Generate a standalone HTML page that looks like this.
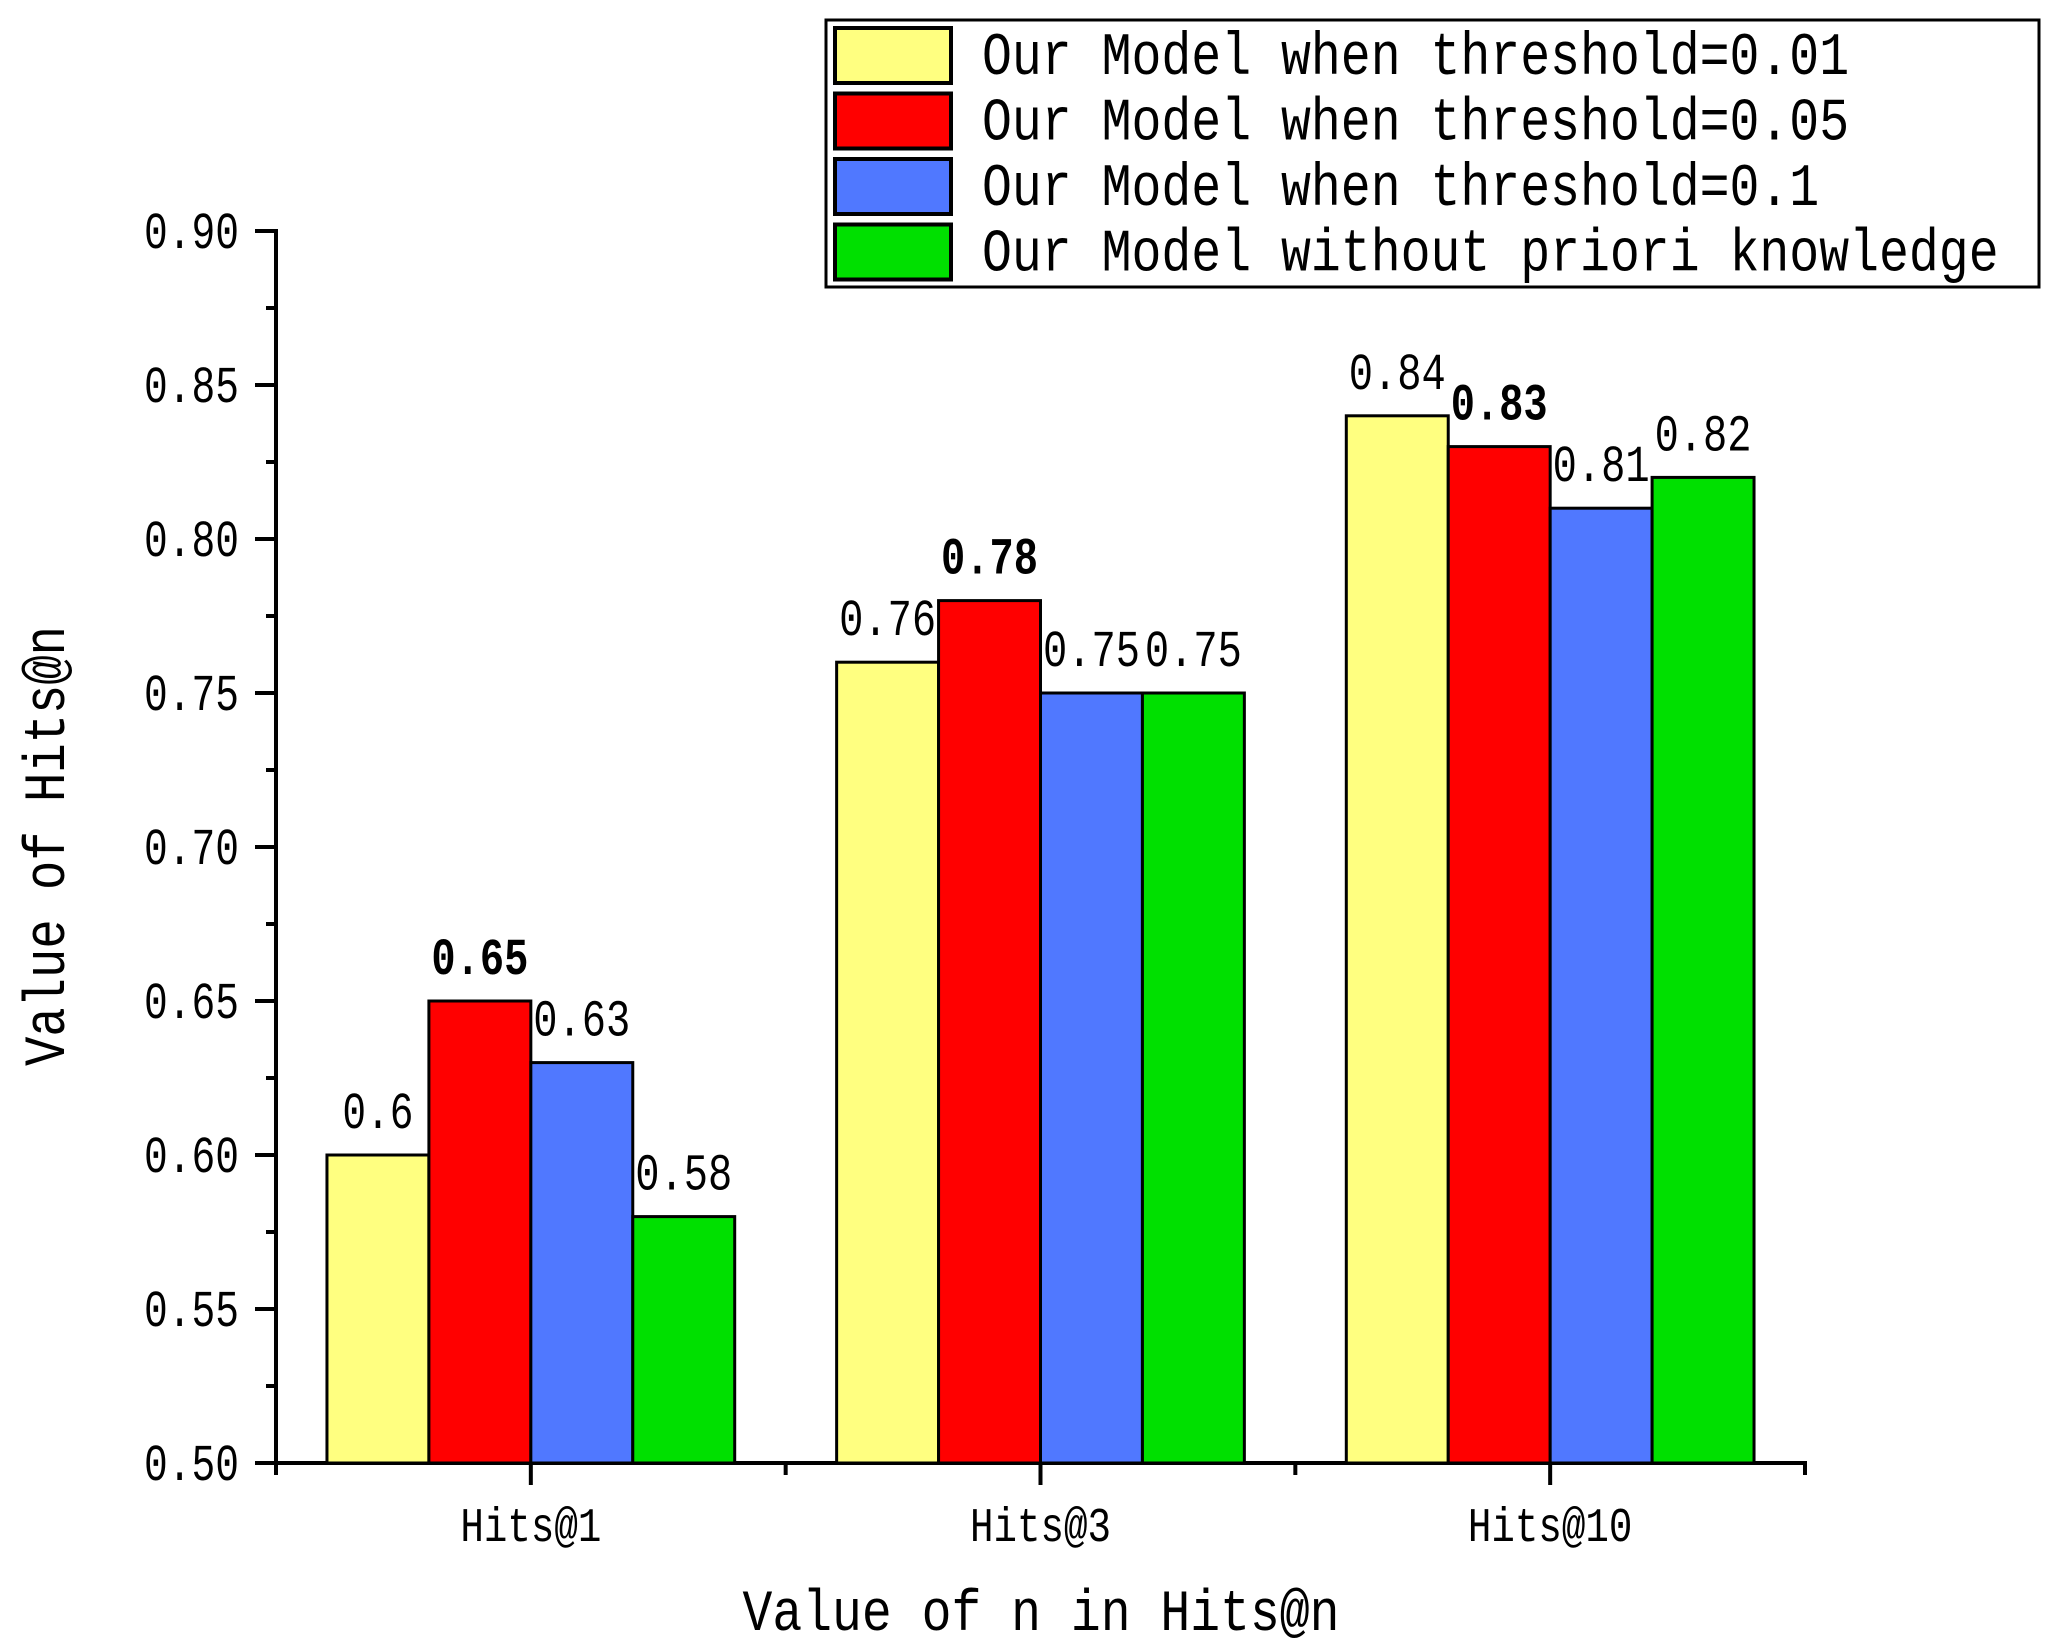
<!DOCTYPE html>
<html><head><meta charset="utf-8"><style>html,body{margin:0;padding:0;background:#fff}svg{display:block}</style></head>
<body>
<svg id="chart" width="2056" height="1644" xmlns="http://www.w3.org/2000/svg" font-family="'Liberation Mono', monospace">
<g id="axes"></g>
<g id="bars"></g>
<g id="legend"></g>
<text x="0" y="0" font-size="58" text-anchor="middle" textLength="440" lengthAdjust="spacingAndGlyphs" transform="translate(64,846) rotate(-90)">Value of Hits@n</text>
<text x="1041" y="1630" font-size="58" text-anchor="middle" textLength="597" lengthAdjust="spacingAndGlyphs">Value of n in Hits@n</text>
</svg>
<script>
const categories = ["Hits@1", "Hits@3", "Hits@10"];
const seriesNames = ["Our Model when threshold=0.01", "Our Model when threshold=0.05", "Our Model when threshold=0.1", "Our Model without priori knowledge"];
const s001 = [0.6, 0.76, 0.84];
const s005 = [0.65, 0.78, 0.83];
const s01 = [0.63, 0.75, 0.81];
const sNone = [0.58, 0.75, 0.82];
const valueLabels = [["0.6","0.76","0.84"],["0.65","0.78","0.83"],["0.63","0.75","0.81"],["0.58","0.75","0.82"]];
const yTicks = [0.50,0.55,0.60,0.65,0.70,0.75,0.80,0.85,0.90];
const yTickLabels = ["0.50","0.55","0.60","0.65","0.70","0.75","0.80","0.85","0.90"];

const series = [s001, s005, s01, sNone];
const colors = ["#ffff80","#ff0000","#5078ff","#00e000"];
const NS = "http://www.w3.org/2000/svg";
const X0 = 276, X1 = 1805, Y0 = 1463, Y1 = 231;
const yMin = 0.5, yMax = 0.9;
function yS(v){ return Y0 - (v - yMin) / (yMax - yMin) * (Y0 - Y1); }
function xS(i){ return X0 + (i + 0.5) / categories.length * (X1 - X0); }
const catW = (X1 - X0) / categories.length;
const barW = catW * 0.8 / series.length;
function mk(tag, attrs, parent){ const e = document.createElementNS(NS, tag); for (const k in attrs) e.setAttribute(k, attrs[k]); parent.appendChild(e); return e; }
const axes = document.getElementById('axes'), bars = document.getElementById('bars'), legend = document.getElementById('legend');

series.forEach((s, si) => {
  s.forEach((v, ci) => {
    const x = xS(ci) - catW*0.4 + si*barW;
    const r = mk('rect', {x: x, y: yS(v), width: barW, height: Y0 - yS(v), fill: colors[si], stroke: '#000', 'stroke-width': 3}, bars);
    
    
    const lbl = valueLabels[si][ci];
    const t = mk('text', {x: x + barW/2, y: yS(v) - 27, 'font-size': 52, 'text-anchor': 'middle', 'font-weight': si === 1 ? 'bold' : 'normal', textLength: lbl.length*26 - 7, lengthAdjust: 'spacingAndGlyphs'}, bars);
    t.textContent = lbl;
    
    
  });
});

mk('line', {x1: X0, y1: Y1-2, x2: X0, y2: Y0+2, stroke: '#000', 'stroke-width': 4}, axes);
mk('line', {x1: X0-21, y1: Y0, x2: X1+2, y2: Y0, stroke: '#000', 'stroke-width': 4}, axes);
yTicks.forEach((v, i) => {
  mk('line', {x1: X0-21, y1: yS(v), x2: X0, y2: yS(v), stroke: '#000', 'stroke-width': 4}, axes);
  if (i < yTicks.length - 1) mk('line', {x1: X0-10, y1: yS(v + 0.025), x2: X0, y2: yS(v + 0.025), stroke: '#000', 'stroke-width': 4}, axes);
  const t = mk('text', {x: 239, y: yS(v) + 17, 'font-size': 52, 'text-anchor': 'end', textLength: 95, lengthAdjust: 'spacingAndGlyphs'}, axes);
  t.textContent = yTickLabels[i];
  
  
});
for (let i = 0; i <= categories.length; i++) {
  const x = X0 + i * catW;
  mk('line', {x1: x, y1: Y0, x2: x, y2: Y0 + 12, stroke: '#000', 'stroke-width': 4}, axes);
}
categories.forEach((c, i) => {
  mk('line', {x1: xS(i), y1: Y0, x2: xS(i), y2: Y0 + 22, stroke: '#000', 'stroke-width': 4}, axes);
  const t = mk('text', {x: xS(i), y: 1541, 'font-size': 48, 'text-anchor': 'middle', textLength: c.length * 23.5, lengthAdjust: 'spacingAndGlyphs'}, axes);
  t.textContent = c;
  
  
});

mk('rect', {x: 826, y: 20, width: 1213, height: 267, fill: '#fff', stroke: '#000', 'stroke-width': 3}, legend);
seriesNames.forEach((n, i) => {
  const y = 28 + i * 65.5;
  const r = mk('rect', {x: 835, y: y, width: 116, height: 55, fill: colors[i], stroke: '#000', 'stroke-width': 4}, legend);
  
  
  const t = mk('text', {x: 982, y: y + 46, 'font-size': 60, textLength: n.length * 29.9, lengthAdjust: 'spacingAndGlyphs'}, legend);
  t.textContent = n;
  
  
});
</script>
</body></html>
